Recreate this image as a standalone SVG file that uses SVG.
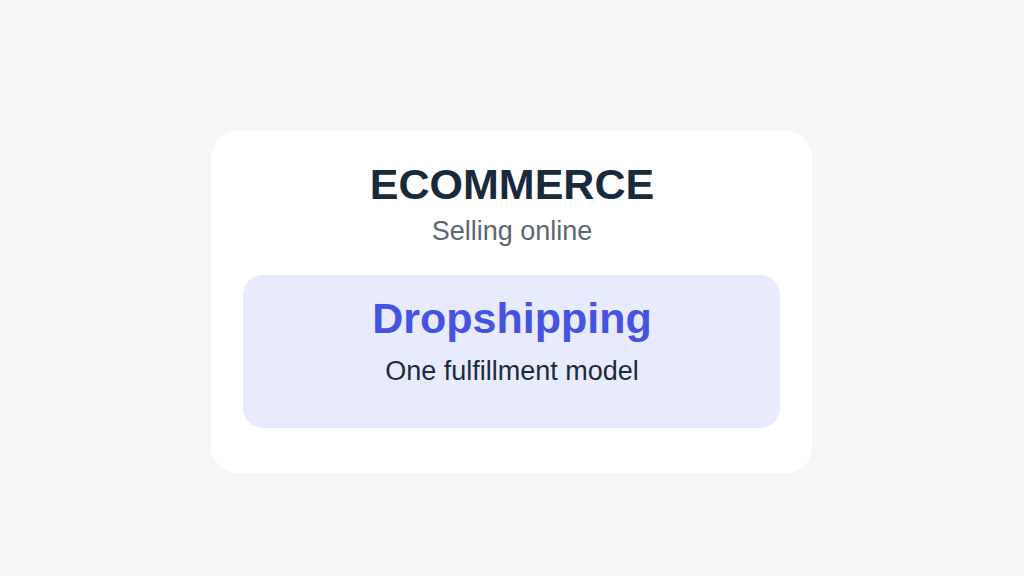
<svg xmlns="http://www.w3.org/2000/svg" width="1024" height="576" viewBox="0 0 1024 576">
<style>
text{font-family:"Liberation Sans",Arial,sans-serif;text-anchor:middle}
.t{font-weight:bold;font-size:43px;fill:#182b3b}
.s{font-size:27px;fill:#5c676f}
.d{font-weight:bold;font-size:43px;fill:#4453e0}
.m{font-size:27px;fill:#1c2b3a}
</style>
<rect width="1024" height="576" fill="#f5f7f7"/>
<g id="ecommerce">
<rect x="211" y="131" width="601" height="342" rx="26" fill="#ffffff"/>
<text class="t" x="512" y="199">ECOMMERCE</text>
<text class="s" x="512" y="240">Selling online</text>
</g>
<g id="dropshipping">
<rect x="243" y="275" width="537" height="153" rx="20" fill="#e8ebfd"/>
<text class="d" x="512" y="333">Dropshipping</text>
<text class="m" x="512" y="380">One fulfillment model</text>
</g>
<g id="connectors"/>
</svg>
